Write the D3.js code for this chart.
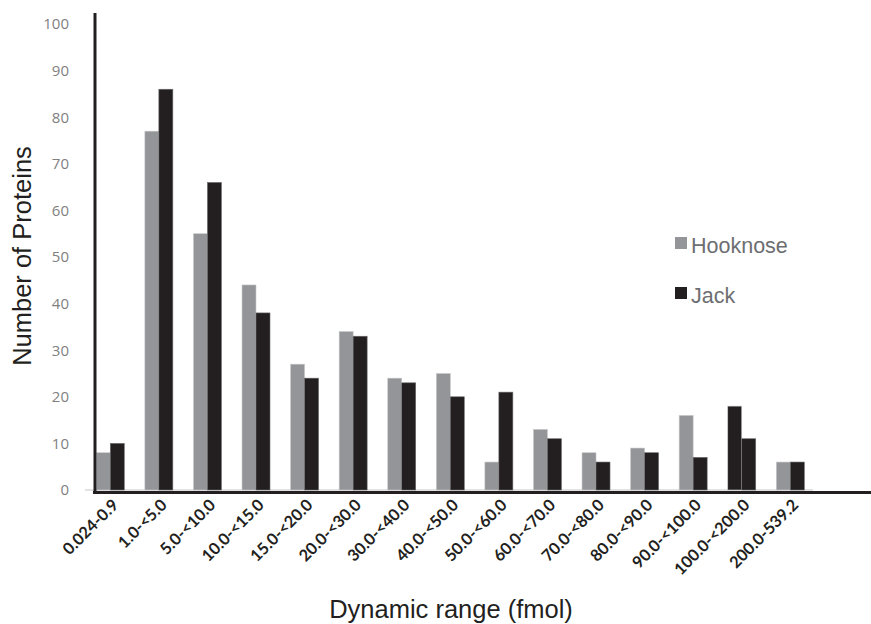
<!DOCTYPE html>
<html><head><meta charset="utf-8">
<script src="https://cdn.jsdelivr.net/npm/d3@7"></script>
<style>body{margin:0;background:#fff}svg{display:block}</style>
</head><body>
<script>
const categories = ["0.024-0.9","1.0-<5.0","5.0-<10.0","10.0-<15.0","15.0-<20.0","20.0-<30.0","30.0-<40.0","40.0-<50.0","50.0-<60.0","60.0-<70.0","70.0-<80.0","80.0-<90.0","90.0-<100.0","100.0-<200.0","200.0-539.2"];
const hooknose = [8,77,55,44,27,34,24,25,6,13,8,9,16,18,6];
const jack = [10,86,66,38,24,33,23,20,21,11,6,8,7,11,6];
const seriesNames = ["Hooknose","Jack"];
const yTicks = [0,10,20,30,40,50,60,70,80,90,100];

const W = 871, H = 624;
const svg = d3.select("body").append("svg").attr("width", W).attr("height", H);
const colors = {Hooknose:"#939598", Jack:"#231f20"};

const y = d3.scaleLinear().domain([0,100]).range([490,24]);
const x0 = d3.scaleBand().domain(categories).range([86,814.6]).paddingInner(0.424).paddingOuter(0.212);
const x1 = d3.scaleBand().domain(seriesNames).range([0, x0.bandwidth()]);

// light baseline
svg.append("line").attr("x1",85).attr("x2",813).attr("y1",y(0)).attr("y2",y(0))
  .attr("stroke","#d9d9d9").attr("stroke-width",1.5);

// bars
const data = categories.map((c,i)=>({cat:c, vals:[{s:"Hooknose",v:hooknose[i]},{s:"Jack",v:jack[i]}]}));
const g = svg.append("g");
data.forEach((d,i)=>{
  d.vals.forEach(e=>{
    // In the source figure the 100.0-<200.0 Hooknose bar is drawn dark
    const fill = (d.cat==="100.0-<200.0") ? colors.Jack : colors[e.s];
    g.append("rect")
      .attr("x", x0(d.cat)+x1(e.s))
      .attr("y", y(e.v))
      .attr("width", x1.bandwidth())
      .attr("height", y(0)-y(e.v))
      .attr("fill", fill)
      .attr("stroke", e.s==="Hooknose" ? "#c8c9cb" : "#6d6b6c")
      .attr("stroke-width", 0.6);
  });
});

// y axis labels
const yAxis = d3.axisLeft(y).tickValues(yTicks).tickSize(0).tickPadding(0);
const ya = svg.append("g").attr("transform","translate(69,0)").call(yAxis)
  .attr("font-size",15).attr("font-family","Open Sans, sans-serif");
ya.select(".domain").remove();
ya.selectAll("text").attr("fill","#7f7f7f").style("font-size","15px");

// axis lines
svg.append("line").attr("x1",95).attr("x2",95).attr("y1",13).attr("y2",494)
  .attr("stroke","#231f20").attr("stroke-width",3);
svg.append("line").attr("x1",93).attr("x2",871).attr("y1",492.5).attr("y2",492.5)
  .attr("stroke","#231f20").attr("stroke-width",3);

// x tick labels
const xAxis = d3.axisBottom(x0).tickSize(0).tickPadding(0);
const xa = svg.append("g").call(xAxis).attr("font-family","Lato, sans-serif").attr("font-size",16);
xa.select(".domain").remove();
xa.selectAll(".tick").attr("transform", d=>`translate(${x0(d)+x0.bandwidth()/2+5},502)`);
xa.selectAll("text")
  .style("font-size","16.3px").attr("font-weight","bold")
  .attr("fill","#231f20")
  .attr("text-anchor","end").attr("dy","0.35em").attr("y",0)
  .attr("transform","rotate(-45)");

// axis titles
svg.append("text").attr("transform","translate(31,256) rotate(-90)")
  .attr("text-anchor","middle").attr("font-family","Liberation Sans, Arial, sans-serif")
  .attr("font-size",25.5).attr("fill","#231f20").text("Number of Proteins");
svg.append("text").attr("x",451).attr("y",618).attr("text-anchor","middle")
  .attr("font-family","Liberation Sans, Arial, sans-serif")
  .attr("font-size",25.5).attr("fill","#231f20").text("Dynamic range (fmol)");

// legend
const leg = svg.append("g");
seriesNames.forEach((s,i)=>{
  const yy = 237 + i*50;
  leg.append("rect").attr("x",675).attr("y",yy).attr("width",12).attr("height",12).attr("fill",colors[s]);
  leg.append("text").attr("x",691).attr("y",yy+16).attr("font-family","Liberation Sans, Arial, sans-serif")
    .attr("font-size",21.5).attr("fill","#6d6e71").text(s);
});
</script>
</body></html>
